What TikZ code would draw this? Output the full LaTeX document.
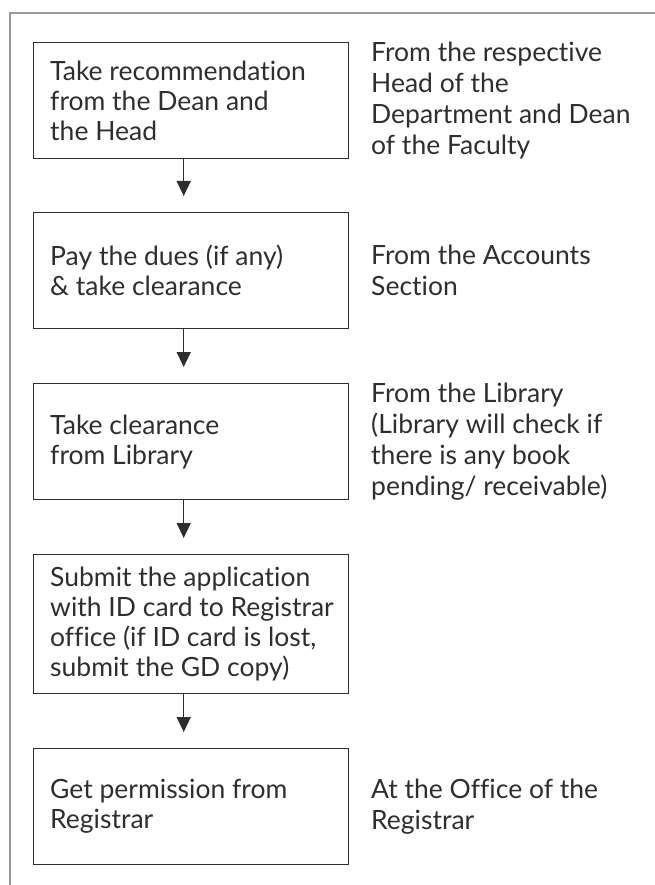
\documentclass[tikz,border=0pt]{standalone}
\usepackage{fontspec}
\setmainfont{Lato}[Ligatures=NoCommon]
\usetikzlibrary{arrows.meta}
\definecolor{ink}{HTML}{2E2E2E}
\definecolor{framegray}{HTML}{9A9A9A}
\tikzset{
  stepbox/.style={draw=ink, line width=1.4pt, anchor=north west,
    minimum width=315pt, inner sep=0pt},
  steptext/.style={text=ink, anchor=west, inner sep=0pt, align=left,
    font=\fontsize{26.5}{30}\selectfont},
  note/.style={text=ink, anchor=west, inner sep=0pt, align=left,
    font=\fontsize{26.5}{31}\selectfont},
  flow/.style={draw=ink, line width=1.5pt, -{Triangle[width=14pt,length=15pt]}}
}
\begin{document}
\begin{tikzpicture}[x=1pt,y=1pt]
\useasboundingbox (0,0) rectangle (655,-885);
% outer frame, open to the right and bottom
\draw[framegray, line width=2pt] (9.5,-890) -- (9.5,-13.5) -- (660,-13.5);

% process steps
\node[stepbox, minimum height=116pt] (b1) at (33,-42) {};
\node[stepbox, minimum height=116pt] (b2) at (33,-212) {};
\node[stepbox, minimum height=116pt] (b3) at (33,-383) {};
\node[stepbox, minimum height=139pt] (b4) at (33,-554) {};
\node[stepbox, minimum height=116pt] (b5) at (33,-748) {};

\node[steptext] (t1) at ([xshift=17pt]b1.west) {Take recommendation\\from the Dean and\\the Head};
\node[steptext] (t2) at ([xshift=17pt]b2.west) {Pay the dues (if any)\\\& take clearance};
\node[steptext] (t3) at ([xshift=17pt]b3.west) {Take clearance\\from Library};
\node[steptext] (t4) at ([xshift=17pt]b4.west) {Submit the application\\with ID card to Registrar\\office (if ID card is lost,\\submit the GD copy)};
\node[steptext] (t5) at ([xshift=17pt]b5.west) {Get permission from\\Registrar};

% side notes
\node[note] (n1) at (b1.center -| 371,0) {From the respective\\Head of the\\Department and Dean\\of the Faculty};
\node[note] (n2) at (b2.center -| 371,0) {From the Accounts\\Section};
\node[note] (n3) at (b3.center -| 371,0) {From the Library\\(Library will check if\\there is any book\\pending/ receivable)};
\node[note] (n5) at (b5.center -| 371,0) {At the Office of the\\Registrar};

% connectors
\draw[flow] ([xshift=-7.5pt]b1.south) -- ([xshift=-7.5pt,yshift=16pt]b2.north);
\draw[flow] ([xshift=-7.5pt]b2.south) -- ([xshift=-7.5pt,yshift=16pt]b3.north);
\draw[flow] ([xshift=-7.5pt]b3.south) -- ([xshift=-7.5pt,yshift=16pt]b4.north);
\draw[flow] ([xshift=-7.5pt]b4.south) -- ([xshift=-7.5pt,yshift=16pt]b5.north);
\end{tikzpicture}
\end{document}
